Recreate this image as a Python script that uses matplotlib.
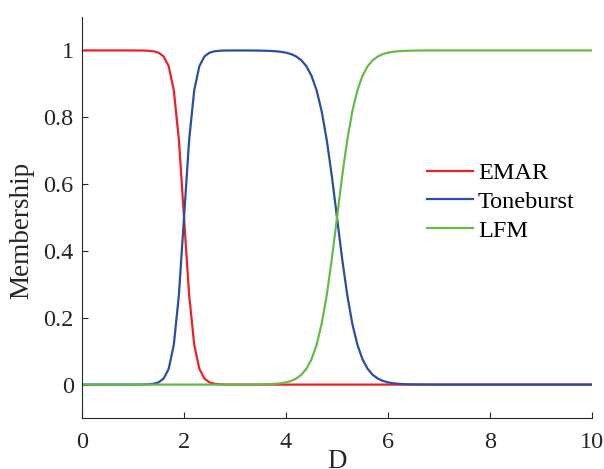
import numpy as np
import matplotlib
matplotlib.use("Agg")
import matplotlib.pyplot as plt

plt.rcParams['font.family'] = ['Liberation Serif', 'DejaVu Serif']

# D grid, 0 to 10 in steps of 0.1
D = np.linspace(0, 10, 101)

# membership values (one per D step)
emar = [1.0] * 10 + [
    0.99995, 0.99988, 0.99966, 0.9991, 0.9975, 0.9933, 0.982, 0.9526, 0.8808, 0.7311,
    0.5, 0.2689, 0.1192, 0.0474, 0.018, 0.0067, 0.0025, 0.0009, 0.0003, 0.0001,
] + [0.0] * 71

toneburst = [0.0] * 10 + [
    0.00005, 0.0001, 0.0003, 0.0009, 0.0025, 0.0067, 0.018, 0.0474, 0.1192, 0.2689,
    0.5, 0.7311, 0.8808, 0.9526, 0.982, 0.9933, 0.9975, 0.9991, 0.9997, 0.9999,
    0.9999, 0.99993, 0.99988, 0.9998, 0.99966, 0.99945, 0.9991, 0.9985, 0.9975, 0.9959,
    0.9933, 0.989, 0.982, 0.9707, 0.9526, 0.9241, 0.8808, 0.8176, 0.7311, 0.6225,
    0.5, 0.3775, 0.2689, 0.1824, 0.1192, 0.0759, 0.0474, 0.0293, 0.018, 0.011,
    0.0067, 0.0041, 0.0025, 0.0015, 0.0009, 0.0006, 0.0003, 0.0002, 0.0001, 0.0001,
] + [0.0] * 31

lfm = [0.0] * 30 + [
    0.00005, 0.00007, 0.0001, 0.0002, 0.0003, 0.0006, 0.0009, 0.0015, 0.0025, 0.0041,
    0.0067, 0.011, 0.018, 0.0293, 0.0474, 0.0759, 0.1192, 0.1824, 0.2689, 0.3775,
    0.5, 0.6225, 0.7311, 0.8176, 0.8808, 0.9241, 0.9526, 0.9707, 0.982, 0.989,
    0.9933, 0.9959, 0.9975, 0.9985, 0.9991, 0.9995, 0.9997, 0.9998, 0.9999, 0.9999,
] + [1.0] * 31

fig = plt.figure(figsize=(6.04, 4.69), dpi=100)
ax = fig.add_axes([0.1358, 0.1087, 0.8443, 0.855])

ax.plot(D, emar, color='#EE2026', lw=1.6, label='EMAR')
ax.plot(D, toneburst, color='#2B4EA2', lw=1.6, label='Toneburst')
ax.plot(D, lfm, color='#63BC46', lw=1.6, label='LFM')

ax.set_xlim(0, 10)
ax.set_ylim(-0.1, 1.1)
ax.set_xticks([0, 2, 4, 6, 8, 10])
ax.set_yticks([0, 0.2, 0.4, 0.6, 0.8, 1])
ax.set_yticklabels(['0', '0.2', '0.4', '0.6', '0.8', '1'])

for s in ['top', 'right']:
    ax.spines[s].set_visible(False)
for s in ['left', 'bottom']:
    ax.spines[s].set_color('#262626')
    ax.spines[s].set_linewidth(0.8)
ax.tick_params(direction='in', length=4.5, width=0.8, color='#262626',
               labelsize=17.5, labelcolor='#262626', pad=6)
ax.tick_params(axis='x', pad=10)

ax.set_xlabel('D', fontsize=19.5, color='#262626')
ax.xaxis.set_label_coords(0.5, -0.078)
ax.set_ylabel('Membership', fontsize=19.5, color='#262626')
ax.yaxis.set_label_coords(-0.094, 0.469)

ax.legend(loc='center left', bbox_to_anchor=(0.676, 0.539), frameon=False,
          fontsize=17.5, handlelength=1.9, handletextpad=0.2,
          labelspacing=0.28, borderpad=0, borderaxespad=0)

fig.savefig('out.png', dpi=100)
